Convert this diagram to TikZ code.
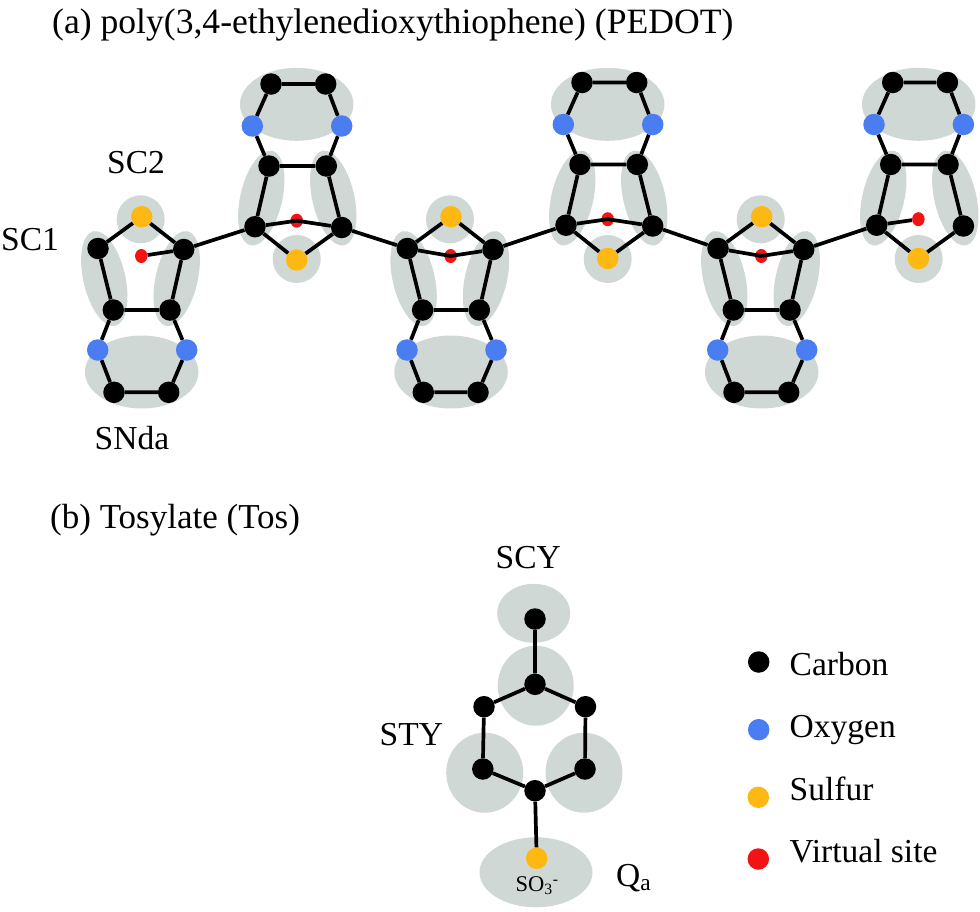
\documentclass[tikz,border=0pt]{standalone}
\usepackage{fontspec}
\setmainfont{Liberation Serif}
\usetikzlibrary{shapes.geometric}
\definecolor{bead}{HTML}{CFD8D5}
\definecolor{oxy}{HTML}{4A7CF2}
\definecolor{sul}{HTML}{FDB813}
\definecolor{vir}{HTML}{F21414}
\tikzset{
  atomc/.style={circle,fill=black,inner sep=0pt,minimum size=21.5pt},
  atomo/.style={circle,fill=oxy,inner sep=0pt,minimum size=21.5pt},
  atoms/.style={circle,fill=sul,inner sep=0pt,minimum size=21.5pt},
  atomv/.style={ellipse,fill=vir,inner sep=0pt,minimum width=12.5pt,minimum height=14pt},
  legv/.style={circle,fill=vir,inner sep=0pt,minimum size=21.5pt},
  beadel/.style={ellipse,fill=bead,inner sep=0pt},
  wide/.style={beadel,minimum width=113.5pt,minimum height=73pt},
  tall/.style={beadel,minimum width=42pt,minimum height=97pt},
  round/.style={beadel,minimum size=48pt},
  bond/.style={line width=3.7pt,black},
  lab/.style={inner sep=0pt,anchor=base west,font=\fontsize{33.5}{36}\selectfont},
  big/.style={inner sep=0pt,anchor=base west,font=\fontsize{35.6}{38}\selectfont},
}
% #1 prefix, #2 dx
\newcommand{\beadsdown}[2]{\begin{scope}[xshift=#2]
  \node[wide] (#1w) at (141.7,372) {};
  \node[round] (#1r) at (140.7,219.3) {};
  \node[tall,rotate=13] (#1a) at (104.3,278.5) {};
  \node[tall,rotate=-13] (#1b) at (176.7,278.5) {};
\end{scope}}
\newcommand{\beadsup}[2]{\begin{scope}[xshift=#2]
  \node[wide] (#1w) at (296.7,104.3) {};
  \node[round] (#1r) at (296.7,259) {};
  \node[tall,rotate=-13] (#1a) at (261.3,198) {};
  \node[tall,rotate=13] (#1b) at (333.3,198) {};
\end{scope}}
\newcommand{\atomsdown}[2]{\begin{scope}[xshift=#2]
  \node[atoms] (#1S) at (141.7,216.7) {};
  \node[atomc] (#1L) at (98,248.5) {};
  \node[atomc] (#1R) at (183.7,249.5) {};
  \node[atomv] (#1V) at (141.3,256) {};
  \node[atomc] (#1ML) at (113.3,310) {};
  \node[atomc] (#1MR) at (170,310) {};
  \node[atomo] (#1OL) at (97.7,350) {};
  \node[atomo] (#1OR) at (186.7,350) {};
  \node[atomc] (#1BL) at (114,392.3) {};
  \node[atomc] (#1BR) at (168.7,392.3) {};
\end{scope}}
\newcommand{\atomsup}[3]{\begin{scope}[xshift=#2,yshift=#3]
  \node[atoms] (#1S) at (296.7,260) {};
  \node[atomc] (#1L) at (255,226.7) {};
  \node[atomc] (#1R) at (341.7,227.5) {};
  \node[atomv] (#1V) at (296.7,220.7) {};
  \node[atomc] (#1ML) at (269,166) {};
  \node[atomc] (#1MR) at (326.3,166) {};
  \node[atomo] (#1OL) at (252.3,126) {};
  \node[atomo] (#1OR) at (341.7,126) {};
  \node[atomc] (#1BL) at (271,84) {};
  \node[atomc] (#1BR) at (325.7,84) {};
\end{scope}}
\newcommand{\ringbonds}[1]{
  \draw[bond] (#1L)--(#1S)--(#1R);
  \draw[bond] (#1L)--(#1ML)--(#1MR)--(#1R);
  \draw[bond] (#1ML)--(#1OL)--(#1BL)--(#1BR)--(#1OR)--(#1MR);
}
\begin{document}
\begin{tikzpicture}[x=1pt,y=-1pt]
\useasboundingbox (0,0) rectangle (980,911);
% CG beads
\beadsdown{a}{0pt}
\beadsup{b}{0pt}
\beadsdown{c}{309.3pt}
\beadsup{d}{311pt}
\beadsdown{e}{620pt}
\beadsup{f}{622pt}
\node[beadel,minimum width=73pt,minimum height=59pt] (tscy) at (533.7,613.3) {};
\node[beadel,minimum width=76pt,minimum height=80pt] (tsta) at (535.7,685.7) {};
\node[beadel,minimum width=77pt,minimum height=80pt] (tstb) at (484.7,772.7) {};
\node[beadel,minimum width=77pt,minimum height=80pt] (tstc) at (584,772.7) {};
\node[beadel,minimum width=113pt,minimum height=70pt] (tq) at (536,872.3) {};
% atoms
\atomsdown{a}{0pt}
\atomsup{b}{0pt}{0pt}
\atomsdown{c}{309.3pt}
\atomsup{d}{311pt}{1.5pt}
\atomsdown{e}{620pt}
\atomsup{f}{621.7pt}{1.5pt}
\node[atomc] (t1) at (535,619) {};
\node[atomc] (t2) at (535,684.3) {};
\node[atomc] (t3) at (484,706.7) {};
\node[atomc] (t4) at (585.5,706.7) {};
\node[atomc] (t5) at (482.8,769) {};
\node[atomc] (t6) at (585,769) {};
\node[atomc] (t7) at (535,790.7) {};
\node[atoms] (t8) at (536.7,858.3) {};
% bonds
\foreach \u in {a,b,c,d,e,f}{\ringbonds{\u}}
\draw[bond] (aR)--(aV);
\draw[bond] (bL)--(bV.center)--(bR);
\draw[bond] (cL)--(cV.center)--(cR);
\draw[bond] (dL)--(dV.center)--(dR);
\draw[bond] (eL)--(eV.center)--(eR);
\draw[bond] (fL)--(fV);
\draw[bond] (aR)--(bL);
\draw[bond] (bR)--(cL);
\draw[bond] (cR)--(dL);
\draw[bond] (dR)--(eL);
\draw[bond] (eR)--(fL);
\draw[bond] (t1)--(t2)--(t3)--(t5)--(t7)--(t6)--(t4)--(t2);
\draw[bond] (t7)--(t8);
% labels
\node[big] (ta) at (52,33) {(a) poly(3,4-ethylenedioxythiophene) (PEDOT)};
\node[lab] (sc2) at (107,173) {SC2};
\node[lab] (sc1) at (1,250.7) {SC1};
\node[lab] (snda) at (94.5,449) {SNda};
\node[big,font=\fontsize{35}{38}\selectfont] (tb) at (50,528) {(b) Tosylate (Tos)};
\node[lab] (scy) at (495.5,568) {SCY};
\node[lab] (sty) at (379.5,745) {STY};
\node[lab] (qa) at (616,886.7) {Q\textsubscript{a}};
\node[inner sep=0pt,anchor=base west,font=\fontsize{22.5}{24}\selectfont] (so) at (515.5,891.7) {SO\textsubscript{3}\textsuperscript{-}};
% legend
\node[atomc] (l1) at (758.7,662) {};
\node[atomo] (l2) at (758.7,729.7) {};
\node[atoms] (l3) at (758.3,797.3) {};
\node[legv] (l4) at (758.3,859) {};
\node[lab] (lt1) at (789.5,675) {Carbon};
\node[lab] (lt2) at (789.5,737.7) {Oxygen};
\node[lab] (lt3) at (789.5,800) {Sulfur};
\node[lab] (lt4) at (789.5,862.7) {Virtual site};
\end{tikzpicture}
\end{document}
